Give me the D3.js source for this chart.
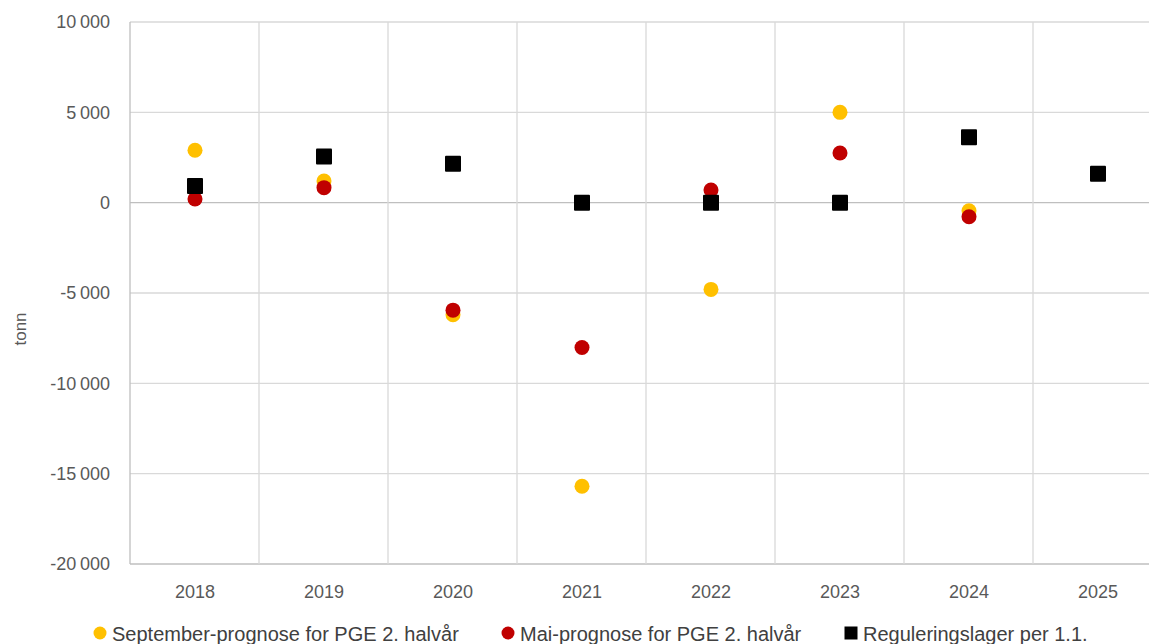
<!DOCTYPE html>
<html><head><meta charset="utf-8">
<script src="https://cdn.jsdelivr.net/npm/d3@7/dist/d3.min.js"></script>
<style>
body{margin:0;background:#fff;}
svg{display:block;font-family:"Liberation Sans",Arial,sans-serif;}
</style></head><body>
<svg id="c" width="1149" height="644"></svg>
<script>
const years = ["2018","2019","2020","2021","2022","2023","2024","2025"];
const septPrognose = [2900, 1200, -6200, -15700, -4800, 5000, -450, null];
const maiPrognose = [200, 830, -5950, -8020, 700, 2750, -780, null];
const reguleringslager = [920, 2550, 2150, 0, 0, 0, 3620, 1600];
const yTicks = [10000, 5000, 0, -5000, -10000, -15000, -20000];
const seriesNames = ["September-prognose for PGE 2. halvår","Mai-prognose for PGE 2. halvår","Reguleringslager per 1.1."];
const colors = ["#FFC000","#C00000","#000000"];

(function(){
const svg = d3.select("#c");
const pLeft = 130, pRight = 1162, pTop = 22, pBottom = 564;
const x = d3.scaleBand().domain(years).range([pLeft, pRight]);
const y = d3.scaleLinear().domain([-20000, 10000]).range([pBottom, pTop]);
const fmtN = v => { const s = Math.abs(v).toString().replace(/\B(?=(\d{3})+(?!\d))/g, "\u2009"); return (v<0?"-":"") + s; };

const g = svg.append("g");
g.selectAll("line.h").data(yTicks).join("line")
  .attr("x1", pLeft).attr("x2", pRight)
  .attr("y1", d => y(d)).attr("y2", d => y(d))
  .attr("stroke", d => (d === 0 || d === -20000) ? "#bfbfbf" : "#d9d9d9")
  .attr("stroke-width", 1.3);
const bounds = years.map(d => x(d));
g.selectAll("line.v").data(bounds).join("line")
  .attr("x1", d => d).attr("x2", d => d)
  .attr("y1", pTop).attr("y2", pBottom)
  .attr("stroke", (d,i) => i === 0 ? "#bfbfbf" : "#d9d9d9")
  .attr("stroke-width", 1.3);

const yAxis = d3.axisLeft(y).tickValues(yTicks).tickFormat(fmtN).tickSize(0).tickPadding(0);
const ya = svg.append("g").attr("transform", `translate(110,0)`).call(yAxis);
ya.select(".domain").remove();
ya.selectAll("text").attr("fill", "#595959").style("font-size", "18px").attr("font-family", "Liberation Sans, Arial, sans-serif");

const xAxis = d3.axisBottom(x).tickSize(0).tickPadding(0);
const xa = svg.append("g").attr("transform", `translate(0.5,${pBottom + 21})`).call(xAxis);
xa.select(".domain").remove();
xa.selectAll("text").attr("fill", "#595959").style("font-size", "18px").attr("font-family", "Liberation Sans, Arial, sans-serif");

svg.append("text").attr("transform", "translate(26,329) rotate(-90)")
  .attr("text-anchor", "middle").attr("fill", "#595959").style("font-size", "17px").text("tonn");

const cx = d => x(d) + x.bandwidth() / 2 + 0.5;
const r = 7.5;
function circles(vals, color) {
  svg.append("g").selectAll("circle")
    .data(years.map((yr, i) => ({yr, v: vals[i]})).filter(d => d.v !== null))
    .join("circle").attr("cx", d => cx(d.yr)).attr("cy", d => y(d.v)).attr("r", r).attr("fill", color);
}
circles(septPrognose, colors[0]);
circles(maiPrognose, colors[1]);
const s = 16;
svg.append("g").selectAll("rect")
  .data(years.map((yr, i) => ({yr, v: reguleringslager[i]})).filter(d => d.v !== null))
  .join("rect").attr("x", d => cx(d.yr) - s/2).attr("y", d => y(d.v) - s/2)
  .attr("width", s).attr("height", s).attr("rx", 1).attr("fill", colors[2]);

const legX = [100, 508, 851];
const lg = svg.append("g");
seriesNames.forEach((name, i) => {
  if (i < 2) lg.append("circle").attr("cx", legX[i]).attr("cy", 633).attr("r", 6.5).attr("fill", colors[i]);
  else lg.append("rect").attr("x", legX[i] - 6.5).attr("y", 626.5).attr("width", 13).attr("height", 13).attr("fill", colors[i]);
  lg.append("text").attr("x", legX[i] + 12).attr("y", 641).attr("fill", "#404040").style("font-size", "20px").text(name);
});
})();
</script>
</body></html>
